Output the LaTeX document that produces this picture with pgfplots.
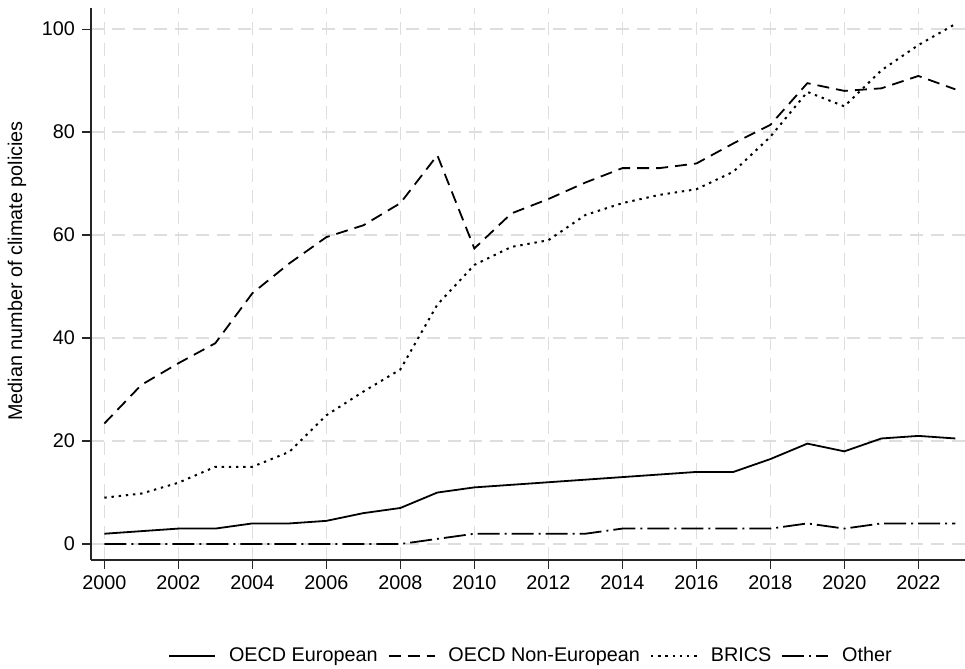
\documentclass[border=0pt]{standalone}
\usepackage{fontspec}
\setmainfont{Liberation Sans}
\usepackage{pgfplots}
\usepackage{pgfplotstable}
\pgfplotsset{compat=1.18}

% Median number of climate policies by country group
\pgfplotstableread{
year  oeu   onon  brics other
2000  2.0   23.4  9.0   0
2001  2.5   30.9  9.8   0
2002  3.0   35.1  11.9  0
2003  3.0   39.0  15.0  0
2004  4.0   48.7  15.0  0
2005  4.0   54.5  17.9  0
2006  4.5   59.6  25.0  0
2007  6.0   61.9  29.6  0
2008  7.0   66.2  33.9  0
2009  10.0  75.5  46.5  1
2010  11.0  57.4  54.2  2
2011  11.5  64.2  57.7  2
2012  12.0  67.0  59.0  2
2013  12.5  70.2  63.9  2
2014  13.0  73.0  66.2  3
2015  13.5  73.0  67.8  3
2016  14.0  73.9  68.9  3
2017  14.0  77.8  72.3  3
2018  16.5  81.4  79.1  3
2019  19.5  89.5  87.8  4
2020  18.0  88.0  85.0  3
2021  20.5  88.5  92.0  4
2022  21.0  90.9  96.9  4
2023  20.5  88.3  101.0 4
}\policies

\begin{document}
\begin{tikzpicture}
\path[use as bounding box] (0,0) rectangle (482.5pt,334.5pt);
\begin{axis}[
  at={(45.5pt,54.5pt)}, anchor=south west,
  scale only axis,
  width=437pt, height=276pt,
  font=\fontsize{9.9}{11.7}\selectfont,
  /pgf/number format/assume math mode=true,
  /pgf/number format/1000 sep={},
  xmin=1999.64, xmax=2023.26,
  ymin=-3.1, ymax=104.1,
  xtick={2000,2002,...,2022},
  ytick={0,20,40,60,80,100},
  axis x line=bottom, axis y line=left,
  axis line style={-, line width=0.6pt, black!85},
  tick align=outside,
  major tick length=4.5pt,
  tick style={line width=0.6pt, black!85},
  grid=major,
  grid style={dash pattern=on 6.5pt off 4pt, color=black!13, line width=0.7pt},
  ylabel={Median number of climate policies},
  ylabel style={at={(axis description cs:-0.0847,0.5236)}, anchor=center, rotate=0},
  legend columns=4,
  legend cell align=left,
  legend style={at={(0.5046,-0.1739)}, anchor=center, draw=none, fill=none,
    font=\fontsize{9.9}{11.7}\selectfont,
    /tikz/every odd column/.append style={column sep=4.5pt},
    /tikz/every even column/.append style={column sep=3pt}},
  legend image code/.code={\draw[#1] (0pt,0pt) -- (23pt,0pt);},
]
\addplot[black, line width=0.9pt] table[x=year, y=oeu] {\policies};
\addlegendentry{OECD European}
\addplot[black, line width=0.9pt, dash pattern=on 6pt off 3.5pt] table[x=year, y=onon] {\policies};
\addlegendentry{OECD Non-European}
\addplot[black, line width=1pt, dash pattern=on 1.2pt off 2.4pt] table[x=year, y=brics] {\policies};
\addlegendentry{BRICS}
\addplot[black, line width=0.9pt, dash pattern=on 11pt off 2.5pt on 1pt off 2.5pt] table[x=year, y=other] {\policies};
\addlegendentry{Other}
\end{axis}
\end{tikzpicture}
\end{document}
